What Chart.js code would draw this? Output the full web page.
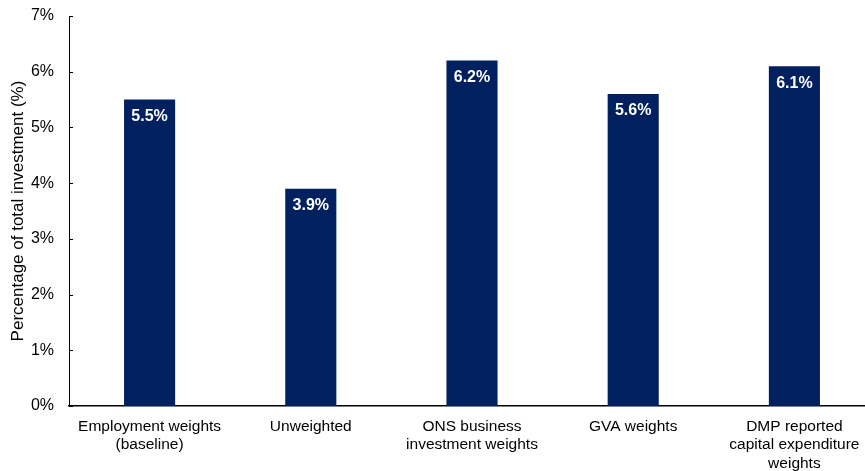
<!DOCTYPE html>
<html>
<head>
<meta charset="utf-8">
<script src="https://cdn.jsdelivr.net/npm/chart.js@4/dist/chart.umd.min.js"></script>
<style>
  html, body { margin: 0; padding: 0; background: #fff; overflow: hidden; }
  #wrap { width: 880px; height: 471px; position: relative; }
</style>
</head>
<body>
<div id="wrap"><canvas id="c"></canvas></div>
<script>
// Weighting approaches compared
const categories = [
  ["Employment weights", "(baseline)"],
  ["Unweighted"],
  ["ONS business", "investment weights"],
  ["GVA weights"],
  ["DMP reported", "capital expenditure", "weights"]
];
// Share of total investment, percent
const shareValues = [5.5, 3.9, 6.2, 5.6, 6.1];
const yTicks = [0, 1, 2, 3, 4, 5, 6, 7];

const FONT = "'Liberation Sans', Arial, sans-serif";
const NAVY = '#002060';

// Value labels written just inside the top of each bar
const barLabels = {
  id: 'barLabels',
  afterDatasetsDraw(chart) {
    const ctx = chart.ctx;
    const meta = chart.getDatasetMeta(0);
    const data = chart.data.datasets[0].data;
    ctx.save();
    ctx.fillStyle = '#ffffff';
    ctx.font = 'bold 16px ' + FONT;
    ctx.textAlign = 'center';
    ctx.textBaseline = 'middle';
    meta.data.forEach((bar, i) => {
      ctx.fillText(data[i].toFixed(1) + '%', bar.x, bar.y + 17);
    });
    ctx.restore();
  }
};

// Short inward tick marks on the value axis
const innerTicks = {
  id: 'innerTicks',
  afterDraw(chart) {
    const y = chart.scales.y;
    const ctx = chart.ctx;
    ctx.save();
    ctx.strokeStyle = '#000';
    ctx.lineWidth = 1;
    y.ticks.forEach(t => {
      const py = Math.round(y.getPixelForValue(t.value)) + 0.5;
      ctx.beginPath();
      ctx.moveTo(y.right, py);
      ctx.lineTo(y.right + 4, py);
      ctx.stroke();
    });
    ctx.restore();
  }
};

new Chart(document.getElementById('c'), {
  type: 'bar',
  data: {
    labels: categories,
    datasets: [{
      data: shareValues,
      backgroundColor: NAVY,
      borderWidth: 0,
      barPercentage: 0.317,
      categoryPercentage: 1.0
    }]
  },
  options: {
    responsive: true,
    maintainAspectRatio: false,
    animation: false,
    layout: { padding: { top: 16, right: 5, left: 0, bottom: 0 } },
    plugins: { legend: { display: false }, tooltip: { enabled: false } },
    scales: {
      x: {
        grid: { display: false, drawTicks: false },
        border: { display: true, color: '#000', width: 1.5 },
        ticks: {
          color: '#000',
          font: { family: FONT, size: 15.5 },
          padding: 11,
          maxRotation: 0,
          autoSkip: false
        },
        afterFit(scale) { scale.height = 65; }
      },
      y: {
        min: 0,
        max: 7,
        afterBuildTicks(scale) {
          scale.ticks = yTicks.map(v => ({ value: v }));
        },
        grid: { display: false, drawTicks: false },
        border: { display: true, color: '#000', width: 1 },
        ticks: {
          color: '#000',
          font: { family: FONT, size: 16 },
          padding: 15,
          callback: v => v + '%'
        },
        title: {
          display: true,
          text: 'Percentage of total investment (%)',
          color: '#000',
          font: { family: FONT, size: 17 },
          padding: { top: 8, bottom: 0 }
        },
        afterFit(scale) {
          scale.width = 69;
          scale.paddingTop = 0;
          scale.paddingBottom = 0;
        }
      }
    }
  },
  plugins: [barLabels, innerTicks]
});
</script>
</body>
</html>
